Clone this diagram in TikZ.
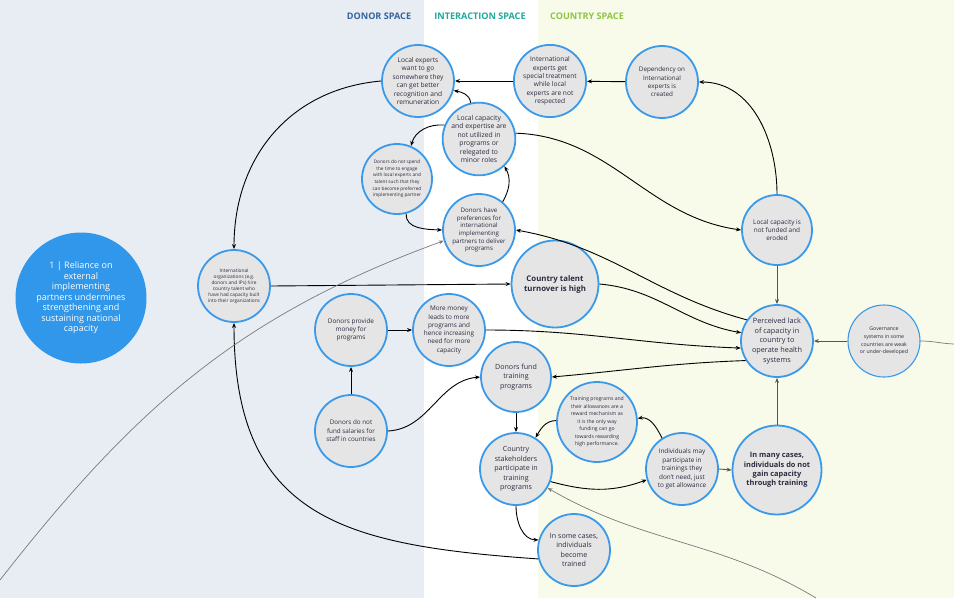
\documentclass[tikz,border=0pt]{standalone}
\usepackage{fontspec}
\setmainfont{Open Sans}
\usetikzlibrary{arrows.meta}
\definecolor{donorbg}{HTML}{E8ECF3}
\definecolor{countrybg}{HTML}{F8FBEA}
\definecolor{ndfill}{HTML}{E5E5E5}
\definecolor{ndborder}{HTML}{3A9AE9}
\definecolor{ndtext}{HTML}{2D2A40}
\definecolor{bigblue}{HTML}{3197EA}
\definecolor{donorhd}{HTML}{35649B}
\definecolor{interhd}{HTML}{1FA89B}
\definecolor{countryhd}{HTML}{8CC63F}
\definecolor{linkgray}{HTML}{7A7A7A}
\definecolor{darkline}{HTML}{555555}
\begin{document}
\begin{tikzpicture}[x=1pt,y=1pt,
  nd/.style={circle,draw=ndborder,line width=1.8pt,fill=ndfill,inner sep=0pt,align=center,text=ndtext,minimum size=72pt},
  arr/.style={-{Stealth[length=5pt,width=4pt]},line width=0.9pt,black},
  darr/.style={-{Stealth[length=5pt,width=4pt]},line width=0.9pt,darkline},
  garr/.style={-{Stealth[length=5pt,width=4pt]},line width=0.7pt,linkgray},
  gline/.style={line width=0.7pt,linkgray},
  hd/.style={font=\fontsize{9.1}{10}\selectfont\bfseries}]
\useasboundingbox (0,0) rectangle (954,-598);
\fill[donorbg] (0,0) rectangle (424,-598);
\fill[white] (424,0) rectangle (538,-598);
\fill[countrybg] (538,0) rectangle (954,-598);
% headings
\node[hd,text=donorhd] (hdonor) at (379,-16) {DONOR SPACE};
\node[hd,text=interhd] (hinter) at (480,-16) {INTERACTION SPACE};
\node[hd,text=countryhd] (hcountry) at (587,-16) {COUNTRY SPACE};
% big node
\node[circle,fill=bigblue,inner sep=0pt,minimum size=131pt,align=center,text=white,font=\fontsize{9}{10.5}\selectfont] (big) at (81,-298)
  {1 | Reliance on\\external\\implementing\\partners undermines\\strengthening and\\sustaining national\\capacity};
% nodes
\node[nd,font=\fontsize{6.6}{8.4}\selectfont] (A) at (418,-81) {Local experts\\want to go\\somewhere they\\can get better\\recognition and\\remuneration};
\node[nd,font=\fontsize{6.6}{8.4}\selectfont] (B) at (550,-81) {International\\experts get\\special treatment\\while local\\experts are not\\respected};
\node[nd,font=\fontsize{6.3}{8.3}\selectfont] (C) at (662,-82) {Dependency on\\International\\experts is\\created};
\node[nd,font=\fontsize{6.8}{8.5}\selectfont] (D) at (479,-139) {Local capacity\\and expertise are\\not utilized in\\programs or\\relegated to\\minor roles};
\node[nd,minimum size=70pt,font=\fontsize{4.7}{6.6}\selectfont] (E) at (397,-179) {Donors do not spend\\the time to engage\\with local experts and\\talent such that they\\can become preferred\\implementing partner};
\node[nd,font=\fontsize{6.2}{7.7}\selectfont] (F) at (479,-230) {Donors have\\preferences for\\international\\implementing\\partners to deliver\\programs};
\node[nd,minimum size=70pt,font=\fontsize{6.4}{8.3}\selectfont] (G) at (777,-230) {Local capacity is\\not funded and\\eroded};
\node[nd,font=\fontsize{4.8}{5.9}\selectfont] (H) at (234,-286) {International\\organizations (e.g.\\donors and IPs) hire\\country talent who\\have had capacity built\\into their organizations};
\node[nd,minimum size=87pt,font=\fontsize{7.8}{10}\selectfont\bfseries] (I) at (555,-284) {Country talent\\turnover is high};
\node[nd,font=\fontsize{6.4}{8.2}\selectfont] (J) at (351,-330) {Donors provide\\money for\\programs};
\node[nd,font=\fontsize{6.4}{8.3}\selectfont] (K) at (449,-330) {More money\\leads to more\\programs and\\hence increasing\\need for more\\capacity};
\node[nd,font=\fontsize{7.3}{9.7}\selectfont] (L) at (777,-341) {Perceived lack\\of capacity in\\country to\\operate health\\systems};
\node[nd,line width=1.1pt,font=\fontsize{5.2}{7.6}\selectfont] (M) at (884,-341) {Governance\\systems in some\\countries are weak\\or under-developed};
\node[nd,minimum size=70pt,font=\fontsize{7.1}{9.6}\selectfont] (N) at (516,-377) {Donors fund\\training\\programs};
\node[nd,font=\fontsize{6.3}{8.4}\selectfont] (O) at (351,-431) {Donors do not\\fund salaries for\\staff in countries};
\node[nd,minimum size=80pt,font=\fontsize{5.1}{7.5}\selectfont] (P) at (597,-422) {Training programs and\\their allowances are a\\reward mechanism as\\it is the only way\\funding can go\\towards rewarding\\high performance.};
\node[nd,font=\fontsize{7.1}{9.5}\selectfont] (Q) at (516,-469) {Country\\stakeholders\\participate in\\training\\programs};
\node[nd,font=\fontsize{6.4}{8.6}\selectfont] (R) at (682,-469) {Individuals may\\participate in\\trainings they\\don't need, just\\to get allowance};
\node[nd,minimum size=89pt,font=\fontsize{7.4}{9.3}\selectfont\bfseries] (S) at (777,-470) {In many cases,\\individuals do not\\gain capacity\\through training};
\node[nd,font=\fontsize{7.1}{9.4}\selectfont] (T) at (574,-550) {In some cases,\\individuals\\become\\trained};
% free ends
\coordinate (g1) at (0,-580);
\coordinate (g2) at (816,-598);
\coordinate (g3) at (954,-344);
% connectors
\draw[arr] (B) -- (A);
\draw[arr] (C) -- (B);
\draw[arr] (G.north) to[out=90,in=0] (C.east);
\draw[arr] (D.103) to[out=95,in=-10] (A.-15);
\draw[arr] (D.158) to[out=175,in=75] (E.67);
\draw[arr] (E.-75) to[out=-95,in=178] (F.west);
\draw[arr] (F.50) to[out=60,in=-60] (D.-47);
\draw[arr] (D.9) to[out=-2,in=172] (G.west);
\draw[darr] (G.south) -- (L.north);
\draw[arr] (L.145) to[out=165,in=-10] (F.east);
\draw[arr] (I.east) to[out=-5,in=170] (L.167);
\draw[arr] (K.east) to[out=0,in=178] (L.191);
\draw[arr] (L.212) to[out=182,in=5] (N.east);
\draw[arr] (H.east) -- (I.west);
\draw[arr] (A.west) to[out=185,in=90,looseness=1.05] (H.north);
\draw[arr] (T.194) to[out=176,in=-90,looseness=1.3] (H.south);
\draw[arr] (O.north) -- (J.south);
\draw[arr] (J.east) -- (K.west);
\draw[arr] (O.east) to[out=3,in=185] (N.west);
\draw[arr] (N.south) -- (Q.north);
\draw[arr] (Q.south) to[out=-90,in=180] (T.164);
\draw[arr] (Q.-20) to[out=-15,in=200] (R.197);
\draw[arr] (R.123) to[out=115,in=10] (P.5);
\draw[arr] (P.178) to[out=180,in=60] (Q.58);
\draw[darr] (R.east) -- (S.west);
\draw[darr] (S.north) -- (L.south);
\draw[darr] (M.west) -- (L.east);
\draw[garr] (g1) to[out=52,in=200] (F.197);
\draw[garr] (g2) to[out=149,in=-30] (Q.-31);
\draw[gline] (M.east) to[out=0,in=178] (g3);
\end{tikzpicture}
\end{document}
